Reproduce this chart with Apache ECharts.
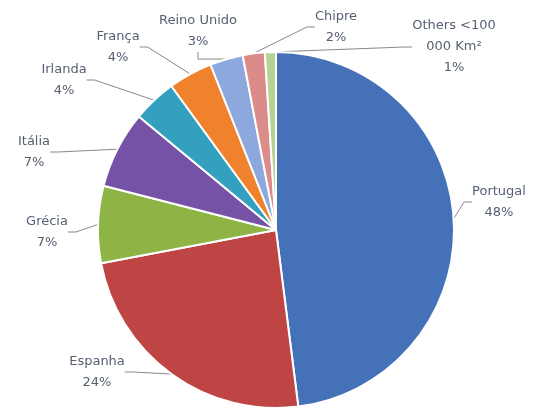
<!DOCTYPE html>
<html>
<head>
<meta charset="utf-8">
<script src="https://cdn.jsdelivr.net/npm/echarts@6/dist/echarts.min.js"></script>
<style>
  html, body { margin: 0; padding: 0; background: #ffffff; }
  #chart { width: 542px; height: 412px; }
</style>
</head>
<body>
<div id="chart"></div>
<script>
// Share of area by country (%), clockwise from 12 o'clock
const countries = ['Portugal', 'Espanha', 'Grécia', 'Itália', 'Irlanda', 'França', 'Reino Unido', 'Chipre', 'Others <100\n000 Km²'];
const shares = [48, 24, 7, 7, 4, 4, 3, 2, 1];
const sliceColors = ['#4571B8', '#BE4544', '#8DB444', '#7552A5', '#33A0BF', '#F0822E', '#8DA8DC', '#DC8B8B', '#B7D394'];

// Where each label block is centred, in the same order as the slices
const labelSpots = [
  [499, 202], [97, 372], [47, 232], [34, 152], [64, 80],
  [118, 47], [198, 31], [336, 27], [454, 47]
];

const chart = echarts.init(document.getElementById('chart'), null, { renderer: 'canvas' });

chart.setOption({
  backgroundColor: '#ffffff',
  animation: false,
  series: [{
    type: 'pie',
    center: [276, 230],
    radius: 178,
    startAngle: 90,
    clockwise: true,
    percentPrecision: 0,
    avoidLabelOverlap: false,
    data: countries.map((name, i) => ({
      name: name,
      value: shares[i],
      itemStyle: { color: sliceColors[i] }
    })),
    itemStyle: { borderColor: '#ffffff', borderWidth: 2 },
    label: {
      show: true,
      position: 'outside',
      formatter: '{b}\n{d}%',
      fontFamily: 'DejaVu Sans',
      fontSize: 13,
      lineHeight: 21,
      color: '#566073',
      align: 'center'
    },
    labelLine: {
      show: true,
      length: 10,
      length2: 8,
      lineStyle: { color: '#888888', width: 1 }
    },
    labelLayout: function (params) {
      const spot = labelSpots[params.dataIndex];
      return {
        x: spot[0],
        y: spot[1],
        align: 'center',
        verticalAlign: 'middle'
      };
    },
    emphasis: { disabled: true }
  }]
});
</script>
</body>
</html>
